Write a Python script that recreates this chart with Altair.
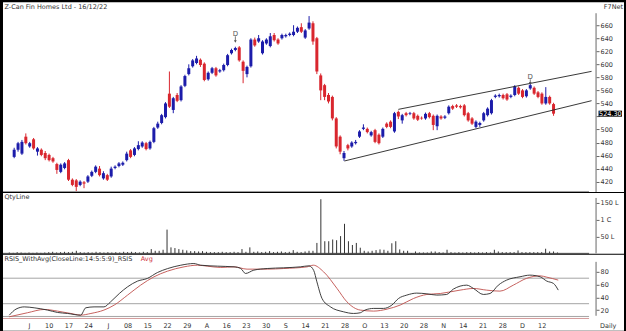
import altair as alt
import pandas as pd

# ---------------- data ----------------
opens = [458,469,463,489,474,485,466,469,464,461,456,447,435,441,453,423,422,415,419,420,
         429,435,440,425,430,428,441,444,446,453,468,461,470,474,479,471,481,503,510,519,
         555,530,553,545,567,585,597,602,607,601,577,587,594,589,591,599,617,622,626,604,
         585,597,638,635,617,632,628,645,638,640,643,645,645,650,657,641,655,663,640,583,
         568,553,550,517,489,456,476,474,479,489,501,501,491,499,492,489,509,512,497,527,
         514,525,524,525,521,518,517,525,521,505,520,518,525,536,537,536,537,525,517,504,
         507,514,522,525,550,551,553,554,550,553,564,560,551,563,564,557,555,540,550,539]
closes = [469,479,481,479,479,471,471,461,456,453,451,438,446,448,423,415,412,420,417,428,
          435,443,430,433,423,440,443,448,449,463,458,471,476,480,470,481,502,509,522,540,
          535,548,544,566,582,594,606,609,599,576,587,594,583,591,599,614,622,625,606,590,
          596,638,629,640,635,638,643,637,632,645,645,647,650,656,650,652,664,635,589,560,
          550,543,517,474,466,464,471,480,481,497,503,496,496,481,479,501,504,504,525,520,
          522,522,525,517,515,517,524,519,507,521,517,520,535,532,535,534,522,514,509,512,
          510,525,532,545,552,553,548,546,552,566,555,550,560,568,555,550,540,550,540,524.3]
highs = [472,481,484,494,481,487,473,471,467,463,458,449,448,450,455,425,424,422,421,430,
         437,445,444,436,432,443,445,450,451,466,470,473,482,482,481,483,504,512,524,542,
         589,550,556,568,584,600,608,613,609,603,589,596,596,593,601,616,624,627,628,606,
         598,640,641,645,637,640,648,648,640,647,647,649,660,658,663,654,674,666,642,586,
         570,556,552,519,491,467,478,482,484,499,508,503,498,501,494,503,511,514,527,529,
         524,527,527,527,523,520,526,527,523,523,522,522,537,538,539,538,539,527,519,514,
         512,527,534,547,554,555,555,556,554,568,566,562,562,571,566,559,557,565,552,541]
lows = [456,466,461,477,472,469,460,459,453,451,449,432,433,439,421,413,405,413,410,418,
        427,433,428,423,421,426,439,442,444,451,456,459,468,472,468,469,479,501,508,517,
        533,525,542,543,565,583,595,600,596,574,575,585,581,587,589,597,615,620,604,571,
        580,595,627,633,615,630,626,635,630,638,641,643,643,648,648,639,653,630,585,545,
        545,540,514,471,462,452,468,472,477,487,499,494,489,479,477,487,502,502,495,516,
        509,520,522,515,513,515,515,517,499,499,515,516,523,530,533,532,520,512,507,502,
        504,512,520,523,548,549,546,544,548,551,553,548,549,561,553,548,538,538,538,521]
volumes = [4,3,5,4,3,4,3,4,3,4,5,6,4,5,6,5,6,9,5,4,
           5,4,6,5,4,5,4,5,4,6,5,6,5,4,6,5,14,9,9,12,
           71,19,17,14,12,10,8,8,7,8,6,5,5,5,6,5,5,6,5,14,
           6,19,6,7,5,6,8,5,6,7,5,6,11,6,5,7,9,9,32,160,
           37,37,42,40,52,88,37,26,32,18,9,7,9,11,13,12,9,31,37,13,
           9,9,2,7,4,4,4,7,7,5,4,12,5,4,5,4,5,5,4,5,
           4,5,4,12,7,5,5,5,5,10,5,5,5,5,5,5,15,7,7,4]

rsi_x = [0,1.7,3.8,6.3,9.7,12.2,14.8,18.1,19.4,21.5,24,25.7,27.9,30,32.5,35,37.6,40.1,43.5,46.8,
         48.5,52.8,57,58.7,59.9,62,65.4,69.6,73.8,76,77.2,78,79.3,81.4,84.7,87.3,89,90.2,92.4,94.9,
         97,98.7,100.8,103.3,105.9,108.4,110.9,112.6,116,117.7,120.2,121.9,124,126.1,129.5,132,134.6,136.3,138,139.2]
rsi_v = [12,21.5,25,23.6,20,16.3,14.7,12,23.6,25,25,33,46,56.5,65.4,69.6,79,85,90.4,93,
         90.4,88.9,87.8,85.2,77.4,82.6,85.2,86.3,87.8,89.4,82,64.3,38.2,25.2,17.4,14.7,15.8,20,22.6,22.6,
         27.8,38.2,43.5,46.6,45.5,43.5,44.5,52.9,59.1,53.9,44.5,46,59.1,67,72.2,74.8,72.2,65.4,61.7,51.3]
avg_x = [0,4.6,8.9,12.2,15.6,18.1,20.7,24,26.6,30,33.3,36.7,40.1,44.3,47.7,50.2,53.6,57,60.3,65.4,
         69.6,75.5,77.1,79.7,83.1,85.6,89,92.4,95.8,99.1,102.5,105.9,109.3,114.3,117.7,121,124.4,127.8,131.1,134.6,
         136.3,139.2]
avg_v = [9.5,15.8,21,18.4,14.7,12.1,14.7,20,27.8,43.5,59.1,72.2,81,87.8,90.4,88.9,86.8,87.8,84.2,84.2,
         85.2,87.8,90.4,80,53.9,33,20,18.4,21.5,27.8,38.2,44.5,46,51.3,53.9,51.3,49.7,59.1,69.6,73.7,
         71.6,67]

xtick_idx = list(range(5, 136, 5))
xtick_labels = ["J","10","17","24","J","08","15","22","29","A","16","23","30","S","14",
                "21","28","O","13","20","28","N","14","21","28","D","12"]
price_ticks = list(range(420, 661, 20))
vol_ticks = [50, 100, 150]
vol_tick_labels = ["50 L", "1 C", "150 L"]
rsi_ticks = [20, 40, 60, 80]
rsi_levels = [70, 30, 10]

chan_id = ["lower", "lower", "upper", "upper"]
chan_x = [85.1, 148.8, 99.0, 148.8]
chan_p = [451.7, 544.2, 530.9, 589.2]

d_idx = [57, 133]
d_text_price = [647, 581]
d_tip_price = [635, 571]

title_text = "Z-Can Fin Homes Ltd - 16/12/22"
last_close = closes[-1]

# ---------------- frames ----------------
n = len(opens)
df = pd.DataFrame({"i": list(range(n)), "o": opens, "c": closes, "h": highs, "l": lows,
                   "v": volumes})
df["dir"] = ["up" if c >= o else "down" for o, c in zip(opens, closes)]
df["zero"] = 0
chan = pd.DataFrame({"id": chan_id, "x": chan_x, "p": chan_p})
dmk = pd.DataFrame({"i": d_idx, "pt": d_text_price, "tip": d_tip_price})
dmk["top"] = dmk["pt"] - 4
rsi_df = pd.DataFrame({"x": rsi_x, "v": rsi_v})
avg_df = pd.DataFrame({"x": avg_x, "v": avg_v})
lvl_df = pd.DataFrame({"v": rsi_levels})
last_df = pd.DataFrame({"p": [last_close], "t": [f"{last_close:.2f}"]})
last_df["a"] = last_df["p"] + 4.6
last_df["b"] = last_df["p"] - 4.6

W = 622
XD = [-1.595, 155.87]
FONT = "DejaVu Sans"
TXT = "#333333"
xs = alt.Scale(domain=XD, nice=False, zero=False)
ps = alt.Scale(domain=[404.2, 695.2], nice=False, zero=False)
vs = alt.Scale(domain=[0, 178.4], nice=False, zero=False)
rs = alt.Scale(domain=[-12.4, 106.6], nice=False, zero=False)
col = alt.Color("dir:N", scale=alt.Scale(domain=["up", "down"], range=["#1c1caa", "#d9262e"]),
                legend=None)


def right_axis(values, expr=None):
    kw = dict(orient="right", offset=-28, values=values, tickSize=3, labelPadding=1,
              labelFontSize=6.5, labelFont=FONT, labelColor=TXT, tickColor="#666",
              domain=False, grid=False, title=None)
    if expr:
        kw["labelExpr"] = expr
    return alt.Axis(**kw)


lab_expr = "[" + ",".join("'" + s + "'" for s in xtick_labels) + "][(datum.value - 5) / 5]"
vol_expr = ("datum.value == 50 ? '" + vol_tick_labels[0] + "' : datum.value == 100 ? '"
            + vol_tick_labels[1] + "' : '" + vol_tick_labels[2] + "'")
# the last-price box covers the label nearest to it, as in the reference
price_expr = "abs(datum.value - %s) < 10 ? '' : datum.label" % last_close
P_AX = right_axis(price_ticks, price_expr)
V_AX = right_axis(vol_ticks, vol_expr)
R_AX = right_axis(rsi_ticks)
RX_AX = alt.Axis(values=xtick_idx, labelExpr=lab_expr, orient="bottom", offset=-9, ticks=False,
                 domain=False, grid=False, labelPadding=1, labelFontSize=6.5, labelFont=FONT,
                 labelColor=TXT, title=None, labelOverlap=False)


def XN(f):
    return alt.X(f, scale=xs, axis=None)


def YP(f):
    return alt.Y(f, scale=ps, axis=P_AX)


one = pd.DataFrame({"k": [0]})

# ---------------- price panel ----------------
base = alt.Chart(df)
wick = base.mark_rule(strokeWidth=1).encode(x=XN("i:Q"), y=YP("l:Q"), y2="h:Q", color=col)
body = base.mark_bar(size=3).encode(x=XN("i:Q"), y=YP("o:Q"), y2="c:Q", color=col)
chan_l = alt.Chart(chan).mark_line(color="#222", strokeWidth=0.9).encode(
    x=XN("x:Q"), y=YP("p:Q"), detail="id:N")
d_txt = alt.Chart(dmk).mark_text(text="D", fontSize=7, font=FONT, color="#555").encode(
    x=XN("i:Q"), y=YP("pt:Q"))
d_arrow = alt.Chart(dmk).mark_rule(color="#555", strokeWidth=0.8).encode(
    x=XN("i:Q"), y=YP("top:Q"), y2="tip:Q")
d_head = alt.Chart(dmk).mark_point(shape="triangle-down", filled=True, size=8, color="#555",
                                   opacity=1).encode(x=XN("i:Q"), y=YP("tip:Q"))
last_box = alt.Chart(last_df).mark_rect(color="black").encode(
    x=alt.value(596.5), x2=alt.value(620), y=YP("a:Q"), y2="b:Q")
last_txt = alt.Chart(last_df).mark_text(color="white", fontSize=6.5, font=FONT).encode(
    x=alt.value(608.3), y=YP("p:Q"), text="t:N")
title_m = alt.Chart(one).mark_text(text=title_text, align="left", baseline="middle", fontSize=6.5,
                                   font=FONT, color=TXT).encode(x=alt.value(1.5), y=alt.value(4.5))
f7 = alt.Chart(one).mark_text(text="F7Net", align="right", baseline="middle", fontSize=6.5,
                              font=FONT, color=TXT).encode(x=alt.value(621), y=alt.value(4.5))
p_axis = alt.Chart(one).mark_rule(color="#666", strokeWidth=1).encode(
    x=alt.value(594), y=alt.value(11), y2=alt.value(190))
sep = alt.Chart(one).mark_rule(color="#999", strokeWidth=1).encode(
    x=alt.value(0), x2=alt.value(587), y=alt.value(189.5))

price = alt.layer(wick, body, chan_l, d_arrow, d_head, d_txt, sep, p_axis, last_box, last_txt,
                  title_m, f7).properties(width=W, height=190)

# ---------------- volume panel ----------------
vbars = base.mark_rule(color="#333", strokeWidth=1).encode(
    x=XN("i:Q"), y=alt.Y("v:Q", scale=vs, axis=V_AX), y2="zero:Q")
v_axis = alt.Chart(one).mark_rule(color="#666").encode(x=alt.value(594), y=alt.value(5),
                                                        y2=alt.value(60.5))
v_base = alt.Chart(one).mark_rule(color="#444").encode(x=alt.value(0), x2=alt.value(587),
                                                        y=alt.value(60.5))
qty = alt.Chart(one).mark_text(text="QtyLine", align="left", baseline="middle", fontSize=6.5,
                               font=FONT, color=TXT).encode(x=alt.value(1.5), y=alt.value(4.5))
volume = alt.layer(vbars, v_base, v_axis, qty).properties(width=W, height=61)

# ---------------- RSI panel ----------------
lv = alt.Chart(lvl_df).mark_rule(color="#9a9a9a", strokeWidth=0.9).encode(
    x=alt.value(0), x2=alt.value(587), y=alt.Y("v:Q", scale=rs, axis=R_AX))
pink = alt.Chart(one).mark_rule(color="#d49a9a", strokeWidth=1).encode(
    x=alt.value(0), x2=alt.value(587), y=alt.value(63.7))
avg_line = alt.Chart(avg_df).mark_line(color="#c0504d", strokeWidth=0.9, interpolate="monotone").encode(
    x=alt.X("x:Q", scale=xs, axis=RX_AX), y=alt.Y("v:Q", scale=rs, axis=R_AX))
rsi_line = alt.Chart(rsi_df).mark_line(color="#2a2a2a", strokeWidth=0.9, interpolate="monotone").encode(
    x=alt.X("x:Q", scale=xs, axis=RX_AX), y=alt.Y("v:Q", scale=rs, axis=R_AX))
r_axis = alt.Chart(one).mark_rule(color="#666").encode(x=alt.value(594), y=alt.value(7),
                                                        y2=alt.value(61))
r_lab1 = alt.Chart(one).mark_text(text="RSIS_WithAvg(CloseLine:14:5:5:9)_RSIS", align="left",
                                  baseline="middle", fontSize=6.5, font=FONT, color=TXT).encode(
    x=alt.value(1.5), y=alt.value(4))
r_lab2 = alt.Chart(one).mark_text(text="Avg", align="left", baseline="middle", fontSize=6.5,
                                  font=FONT, color="#d0303a").encode(x=alt.value(138), y=alt.value(4))
daily = alt.Chart(one).mark_text(text="Daily", align="left", baseline="middle", fontSize=6.5,
                                 font=FONT, color=TXT).encode(x=alt.value(598), y=alt.value(71))
rsi = alt.layer(lv, avg_line, rsi_line, pink, r_axis, r_lab1, r_lab2, daily).properties(
    width=W, height=76)

chart = alt.vconcat(price, volume, rsi, spacing=0).properties(
    background="black", padding={"left": 2, "right": 2, "top": 2, "bottom": 2}
).configure_view(strokeWidth=0, fill="white").configure_concat(spacing=0)

chart.save("out.html", embed_options={"renderer": "svg", "actions": False})
